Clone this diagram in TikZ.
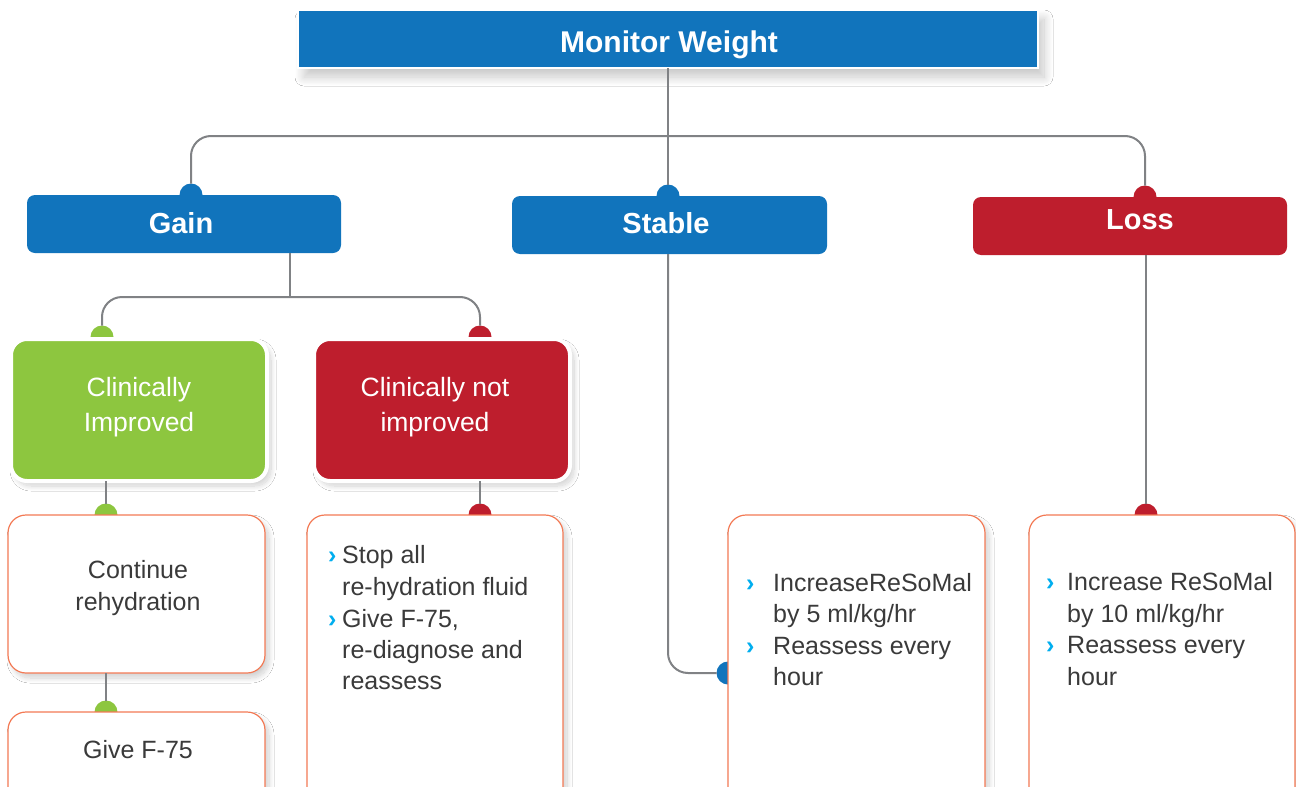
\documentclass[tikz,border=0pt]{standalone}
\usepackage{fontspec}
\setmainfont{Liberation Sans}
\usetikzlibrary{shadows.blur}
\definecolor{mblue}{HTML}{1174BC}
\definecolor{mred}{HTML}{BE1E2D}
\definecolor{mgreen}{HTML}{8DC63F}
\definecolor{morange}{HTML}{F37A55}
\definecolor{mgray}{HTML}{808285}
\definecolor{mbullet}{HTML}{00AEEF}
\definecolor{mtext}{HTML}{3A3A3A}
\begin{document}
\begin{tikzpicture}[x=1pt,y=-1pt,
  conn/.style={draw=mgray,line width=2pt},
  shd/.style={blur shadow={shadow xshift=4pt,shadow yshift=-5pt,shadow blur steps=16,shadow opacity=18,shadow blur radius=5pt}},
  bigshd/.style={blur shadow={shadow xshift=6pt,shadow yshift=-9pt,shadow blur steps=20,shadow opacity=22,shadow blur radius=9pt}},
  rect/.style={anchor=north west,inner sep=0pt,outer sep=0pt},
  head/.style={rect,fill=#1,rounded corners=8pt},
  bigbox/.style={rect,fill=#1,draw=white,line width=4pt,rounded corners=16pt,shd},
  wbox/.style={rect,fill=white,draw=morange,line width=1.2pt,rounded corners=18pt,shd},
  dot/.style={circle,fill=#1,inner sep=0pt,outer sep=0pt,minimum size=23pt},
  htext/.style={anchor=base,inner sep=0pt,text=white,font=\fontsize{29}{34}\selectfont\bfseries},
  ltext/.style={anchor=base,inner sep=0pt,text=white,font=\fontsize{26.5}{32}\selectfont},
  btext/.style={anchor=base,inner sep=0pt,text=mtext,font=\fontsize{25}{31}\selectfont},
  litext/.style={anchor=base west,inner sep=0pt,text=mtext,font=\fontsize{25}{31}\selectfont},
  bul/.style={anchor=base west,inner sep=0pt,text=mbullet,font=\fontsize{25}{31}\selectfont\bfseries}
]
\clip (0,0) rectangle (1296,787);
\fill[white] (0,0) rectangle (1296,787);

% hubs
\coordinate (hub1) at (668,136);
\coordinate (hub2) at (290,297);

% dots
\node[dot=mblue] (dg) at (191,195) {};
\node[dot=mblue] (ds) at (668,196) {};
\node[dot=mred]  (dl) at (1145,197) {};
\node[dot=mgreen] (dci) at (102,337) {};
\node[dot=mred]  (dcni) at (480,337) {};
\node[dot=mgreen] (dcont) at (106,515) {};
\node[dot=mgreen] (df75) at (106,712) {};
\node[dot=mred]  (dstop) at (480,515) {};
\node[dot=mblue] (dsl) at (728,673) {};
\node[dot=mred]  (dll) at (1146,515) {};

% boxes
\node[rect,fill=mblue,draw=white,line width=1.5pt,minimum width=740pt,minimum height=58pt,bigshd] (mw) at (298,10) {};
\node[head=mblue,minimum width=314pt,minimum height=58pt] (gain) at (27,195) {};
\node[head=mblue,minimum width=315pt,minimum height=58pt] (stable) at (512,196) {};
\node[head=mred,minimum width=314pt,minimum height=58pt] (loss) at (973,197) {};
\node[bigbox=mgreen,minimum width=256pt,minimum height=142pt] (ci) at (11,339) {};
\node[bigbox=mred,minimum width=256pt,minimum height=142pt] (cni) at (314,339) {};
\node[wbox,minimum width=257pt,minimum height=158pt] (cont) at (8,515) {};
\node[wbox,minimum width=257pt,minimum height=110pt] (f75) at (8,712) {};
\node[wbox,minimum width=256pt,minimum height=300pt] (stop) at (307,515) {};
\node[wbox,minimum width=257pt,minimum height=300pt] (slist) at (728,515) {};
\node[wbox,minimum width=266pt,minimum height=300pt] (llist) at (1029,515) {};

% texts
\node[htext,font=\fontsize{30}{36}\selectfont\bfseries] (tmw) at (669,52) {Monitor Weight};
\node[htext] (tgain) at (181,233) {Gain};
\node[htext] (tstable) at (666,233) {Stable};
\node[htext] (tloss) at (1140,229) {Loss};
\node[ltext] (tci1) at (139,396) {Clinically};
\node[ltext] (tci2) at (139,431) {Improved};
\node[ltext] (tcni1) at (435,396) {Clinically not};
\node[ltext] (tcni2) at (435,431) {improved};
\node[btext] (tc1) at (138,578) {Continue};
\node[btext] (tc2) at (138,610) {rehydration};
\node[btext] (tf) at (138,758) {Give F-75};

\node[bul] (b1) at (328,563) {›};
\node[bul] (b2) at (328,627) {›};
\node[litext] (s1) at (342,563) {Stop all};
\node[litext] (s2) at (342,595) {re-hydration fluid};
\node[litext] (s3) at (342,627) {Give F-75,};
\node[litext] (s4) at (342,658) {re-diagnose and};
\node[litext] (s5) at (342,689) {reassess};

\node[bul] (b3) at (746,591) {›};
\node[bul] (b4) at (746,654) {›};
\node[litext] (r1) at (773,591) {IncreaseReSoMal};
\node[litext] (r2) at (773,622) {by 5 ml/kg/hr};
\node[litext] (r3) at (773,654) {Reassess every};
\node[litext] (r4) at (773,685) {hour};

\node[bul] (b5) at (1046,590) {›};
\node[bul] (b6) at (1046,653) {›};
\node[litext] (q1) at (1067,590) {Increase ReSoMal};
\node[litext] (q2) at (1067,622) {by 10 ml/kg/hr};
\node[litext] (q3) at (1067,653) {Reassess every};
\node[litext] (q4) at (1067,685) {hour};

% connectors
\draw[conn] (mw.south) -- (ds.north);
\draw[conn,rounded corners=20pt] (dg.north) |- (hub1) -| (dl.north);
\draw[conn] (hub2 |- gain.south) -- (hub2);
\draw[conn,rounded corners=20pt] (dci.north) |- (hub2) -| (dcni.north);
\draw[conn] (dcont |- ci.south) -- (dcont.north);
\draw[conn] (df75 |- cont.south) -- (df75.north);
\draw[conn] (dstop |- cni.south) -- (dstop.north);
\draw[conn,rounded corners=20pt] (ds |- stable.south) |- (dsl.west);
\draw[conn] (dll |- loss.south) -- (dll.north);
\end{tikzpicture}
\end{document}
